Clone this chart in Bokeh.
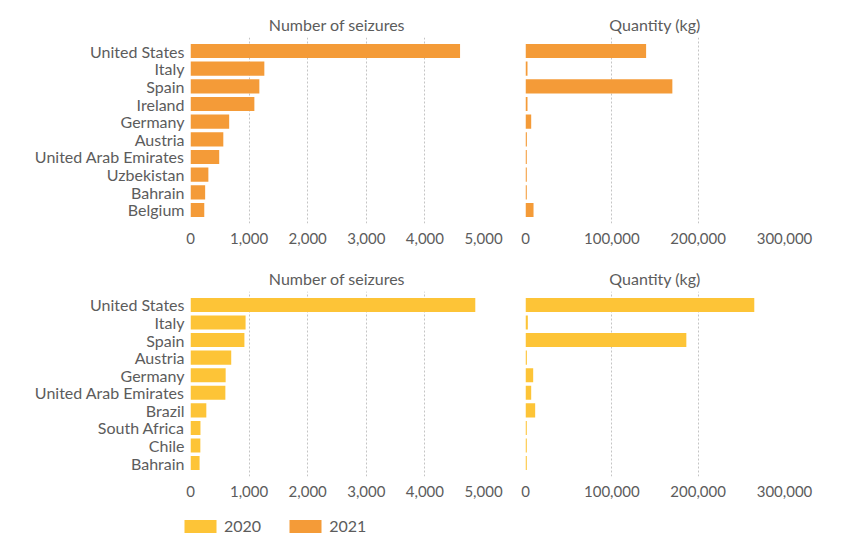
from bokeh.plotting import figure
from bokeh.layouts import column, row
from bokeh.models import (FactorRange, Range1d, FixedTicker, NumeralTickFormatter,
                          ColumnDataSource, Legend, LegendItem, Title)
from bokeh.embed import file_html
from bokeh.resources import INLINE

# ---- data ----
countries_2021 = ["United States", "Italy", "Spain", "Ireland", "Germany", "Austria",
                  "United Arab Emirates", "Uzbekistan", "Bahrain", "Belgium"]
seizures_2021 = [4600, 1260, 1175, 1090, 660, 560, 490, 305, 250, 235]
quantity_2021 = [139700, 2300, 170100, 2300, 6600, 1600, 1500, 1500, 1500, 9300]

countries_2020 = ["United States", "Italy", "Spain", "Austria", "Germany",
                  "United Arab Emirates", "Brazil", "South Africa", "Chile", "Bahrain"]
seizures_2020 = [4860, 940, 920, 695, 600, 595, 270, 170, 168, 155]
quantity_2020 = [265000, 2700, 186300, 1600, 8900, 6600, 11200, 1500, 1500, 1500]

seizure_ticks = [0, 1000, 2000, 3000, 4000, 5000]
quantity_ticks = [0, 100000, 200000, 300000]

years = ["2020", "2021"]
COL = {"2020": "#FDC437", "2021": "#F49B38"}
FONT = "Lato"
TXT = "#5c5c5c"
GRID = "#c4c4c4"


def panel(countries, values, ticks, xmax, color, title, show_y, w_left, w_right,
          frame_w, b_top, frame_h, b_bottom, t_standoff):
    factors = list(reversed(countries))
    p = figure(y_range=FactorRange(factors=factors, range_padding=0.265,
                                   range_padding_units="absolute"),
               x_range=Range1d(0, xmax),
               frame_width=frame_w, frame_height=frame_h,
               min_border_left=w_left, min_border_right=w_right,
               min_border_top=b_top, min_border_bottom=b_bottom,
               output_backend="svg", toolbar_location=None,
               background_fill_color="white", border_fill_color="white")
    p.outline_line_color = None
    src = ColumnDataSource(dict(c=countries, v=values))
    p.hbar(y="c", right="v", left=0, height=0.8, source=src,
           fill_color=color, line_color=None)
    t = Title(text=title, align="center", text_font=FONT, text_font_size="16px",
              text_font_style="normal", text_color=TXT, standoff=t_standoff)
    p.add_layout(t, "above")
    p.xaxis.ticker = FixedTicker(ticks=ticks)
    p.xaxis.formatter = NumeralTickFormatter(format="0,0")
    p.xaxis.axis_line_color = None
    p.xaxis.major_tick_line_color = None
    p.xaxis.minor_tick_line_color = None
    p.xaxis.major_tick_out = 0
    p.xaxis.major_label_standoff = 9
    p.xaxis.major_label_text_font = FONT
    p.xaxis.major_label_text_font_size = "15px"
    p.xaxis.major_label_text_color = TXT
    p.xgrid.grid_line_color = GRID
    p.xgrid.grid_line_dash = "2 2"
    p.xgrid.ticker = FixedTicker(ticks=ticks)
    p.ygrid.grid_line_color = None
    if show_y:
        p.yaxis.axis_line_color = None
        p.yaxis.major_tick_line_color = None
        p.yaxis.major_tick_out = 0
        p.yaxis.major_label_standoff = 6
        p.yaxis.major_label_text_font = FONT
        p.yaxis.major_label_text_font_size = "16px"
        p.yaxis.major_label_text_color = TXT
    else:
        p.yaxis.visible = False
    return p


tl = panel(countries_2021, seizures_2021, seizure_ticks, 5000, COL["2021"],
           "Number of seizures", True, 190, 22, 293, 37, 186, 32, 8)
tr = panel(countries_2021, quantity_2021, quantity_ticks, 300000, COL["2021"],
           "Quantity (kg)", False, 20, 50, 259, 37, 186, 32, 8)
bl = panel(countries_2020, seizures_2020, seizure_ticks, 5000, COL["2020"],
           "Number of seizures", True, 190, 22, 293, 36, 185, 24, 8)
br = panel(countries_2020, quantity_2020, quantity_ticks, 300000, COL["2020"],
           "Quantity (kg)", False, 20, 50, 259, 36, 185, 24, 8)

# legend strip
lg = figure(width=834, height=36, x_range=Range1d(0, 1), y_range=Range1d(0, 1),
            output_backend="svg", toolbar_location=None,
            min_border=0, background_fill_color="white", border_fill_color="white")
lg.axis.visible = False
lg.grid.visible = False
lg.outline_line_color = None
items = []
for yr in years:
    # zero-length proxy bar: draws nothing, only provides the legend swatch
    r = lg.hbar(y=[0], left=[0], right=[0], height=0.5, fill_color=COL[yr],
                line_color=None)
    items.append(LegendItem(label=yr, renderers=[r]))
legend = Legend(items=items, orientation="horizontal", location=(180, 1),
                glyph_width=40, glyph_height=16, label_standoff=4, spacing=24,
                padding=0, margin=0, border_line_color=None,
                background_fill_alpha=0, label_text_font=FONT,
                label_text_font_size="16px", label_text_color=TXT,
                label_height=16)
lg.add_layout(legend, "center")

layout = column(row(tl, tr), row(bl, br), lg)
open("out.html", "w").write(file_html(layout, INLINE))
